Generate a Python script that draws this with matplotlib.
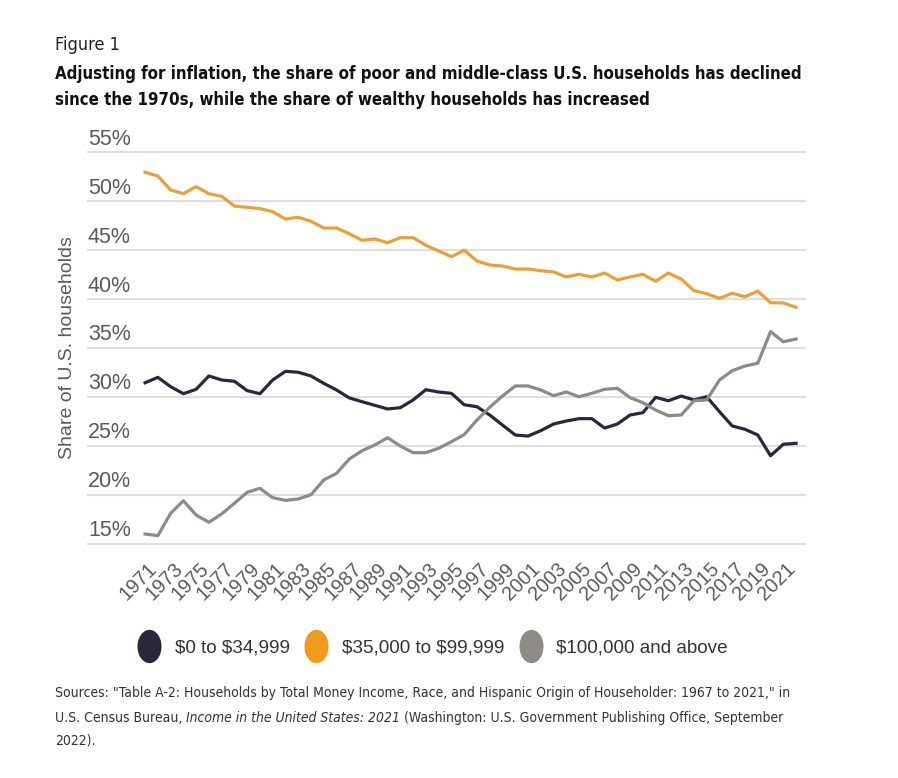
import matplotlib
matplotlib.use("Agg")
import matplotlib.pyplot as plt
from matplotlib import font_manager, transforms
from matplotlib.lines import Line2D
from matplotlib.path import Path
import numpy as np

# ---------------- data (share of U.S. households, %) ----------------
low = [31.45, 32.0, 31.05, 30.33, 30.78, 32.14, 31.73, 31.6, 30.64, 30.33,
       31.73, 32.62, 32.52, 32.14, 31.39, 30.71, 29.9, 29.51, 29.14, 28.77,
       28.9, 29.69, 30.74, 30.5, 30.37, 29.2, 29.0, 28.15, 27.13, 26.11,
       26.0, 26.55, 27.23, 27.54, 27.78, 27.78, 26.82, 27.23, 28.15, 28.39,
       29.96, 29.61, 30.09, 29.69, 30.02, 28.49, 27.03, 26.69, 26.11, 23.99,
       25.16, 25.26]
mid = [52.96, 52.58, 51.15, 50.77, 51.49, 50.77, 50.5, 49.51, 49.38, 49.24,
       48.93, 48.18, 48.36, 47.95, 47.26, 47.26, 46.68, 46.0, 46.14, 45.76,
       46.27, 46.27, 45.5, 44.91, 44.33, 45.0, 43.89, 43.48, 43.38, 43.07,
       43.07, 42.9, 42.77, 42.26, 42.53, 42.26, 42.66, 41.95, 42.26, 42.53,
       41.82, 42.66, 42.05, 40.86, 40.55, 40.07, 40.59, 40.24, 40.82, 39.63,
       39.6, 39.16]
high = [15.99, 15.82, 18.1, 19.39, 17.93, 17.19, 18.04, 19.13, 20.25, 20.66,
        19.7, 19.43, 19.57, 20.01, 21.51, 22.19, 23.66, 24.5, 25.09, 25.83,
        24.98, 24.3, 24.3, 24.75, 25.42, 26.15, 27.64, 28.94, 30.09, 31.12,
        31.12, 30.71, 30.13, 30.5, 30.02, 30.37, 30.78, 30.88, 29.92, 29.41,
        28.66, 28.08, 28.15, 29.61, 29.69, 31.73, 32.68, 33.16, 33.44, 36.67,
        35.64, 35.92]
tick_labels = ["1971", "1973", "1975", "1977", "1979", "1981", "1983", "1985",
               "1987", "1989", "1991", "1993", "1995", "1997", "1999", "2001",
               "2003", "2005", "2007", "2009", "2011", "2013", "2015", "2017",
               "2019", "2021"]
series_names = ["\\$0 to \\$34,999", "\\$35,000 to \\$99,999", "\\$100,000 and above"]
y_ticks = [15, 20, 25, 30, 35, 40, 45, 50, 55]

# ---------------- styles ----------------
c_low = "#29273c"
c_mid = "#eba036"
c_high = "#8e8b86"
c_mid_leg = "#ef9a1c"
grid_c = "#dedede"
tick_c = "#5a5a5a"

available = {f.name for f in font_manager.fontManager.ttflist}
sans = ["Liberation Sans", "DejaVu Sans"]
if "Liberation Sans Narrow" in available:
    narrow = ["Liberation Sans Narrow", "DejaVu Sans"]
    narrow_stretch = "normal"
else:
    narrow = ["DejaVu Sans"]
    narrow_stretch = "condensed"

plt.rcParams["font.family"] = sans

fig = plt.figure(figsize=(8.98, 7.78), dpi=100)
W, H = 898, 778
ax = fig.add_axes([88 / W, 1 - 543.7 / H, (805 - 88) / W, (543.7 - 152.3) / H])

x = np.arange(len(mid))
lw = 2.3
ax.plot(x, low, color=c_low, lw=lw, solid_joinstyle="round", zorder=3)
ax.plot(x, mid, color=c_mid, lw=lw, solid_joinstyle="round", zorder=3)
ax.plot(x, high, color=c_high, lw=lw, solid_joinstyle="round", zorder=3)

ax.set_xlim(-4.47, 51.7)
ax.set_ylim(15, 55)
for s in ax.spines.values():
    s.set_visible(False)

ax.set_yticks(y_ticks)
ax.yaxis.grid(True, color=grid_c, lw=1.5)
ax.set_axisbelow(True)
ax.tick_params(axis="y", length=0, labelleft=False)
for gl in ax.get_ygridlines():
    gl.set_clip_on(False)

ylab_tr = transforms.offset_copy(ax.get_yaxis_transform(), fig=fig, x=0, y=7.5, units="dots")
for v in y_ticks:
    ax.text(0, v, f"{v}%", transform=ylab_tr, ha="left", va="baseline",
            fontsize=15.5, color=tick_c)

ax.set_xticks(np.arange(0, 2 * len(tick_labels), 2))
ax.set_xticklabels(tick_labels, rotation=45, ha="right", fontsize=14.3, color=tick_c)
ax.tick_params(axis="x", length=0, pad=11)
off = transforms.ScaledTranslation(16 / 100, 0, fig.dpi_scale_trans)
for lab in ax.get_xticklabels():
    lab.set_transform(lab.get_transform() + off)

fig.text(67 / W, 1 - 348 / H, "Share of U.S. households", rotation=90,
         ha="center", va="center", fontsize=14, color=tick_c)

# ---------------- titles ----------------
fig.text(55 / W, 1 - 45 / H, "Figure 1", ha="left", va="center", fontsize=13,
         family=narrow, stretch=narrow_stretch, color="#222222")
fig.text(55 / W, 1 - 74 / H,
         "Adjusting for inflation, the share of poor and middle-class U.S. households has declined",
         ha="left", va="center", fontsize=12.1, fontweight="bold", family=narrow,
         stretch=narrow_stretch, color="#111111")
fig.text(55 / W, 1 - 100 / H,
         "since the 1970s, while the share of wealthy households has increased",
         ha="left", va="center", fontsize=12.1, fontweight="bold", family=narrow,
         stretch=narrow_stretch, color="#111111")

# ---------------- legend ----------------
theta = np.linspace(0, 2 * np.pi, 60)
ell = Path(np.column_stack([np.cos(theta) * 0.72, np.sin(theta)]))
handles = [Line2D([], [], ls="none", marker=ell, markersize=24, color=c,
                  markeredgewidth=0)
           for c in (c_low, c_mid_leg, c_high)]
fig.legend(handles, series_names, loc="center", bbox_to_anchor=(433 / W, 1 - 648 / H),
           ncol=3, frameon=False, fontsize=13.6, handlelength=1.2,
           handletextpad=0.75, columnspacing=0.8, labelcolor="#333333")

# ---------------- sources ----------------
src_kw = dict(fontsize=10, family=narrow, stretch=narrow_stretch, color="#333333")
fig.text(55 / W, 1 - 693 / H,
         "Sources: \"Table A-2: Households by Total Money Income, Race, and Hispanic Origin of Householder: 1967 to 2021,\" in",
         ha="left", va="center", **src_kw)
t1 = fig.text(55 / W, 1 - 718 / H, "U.S. Census Bureau, ", ha="left", va="center", **src_kw)
t2 = fig.text(0, 0, "Income in the United States: 2021", ha="left", va="center",
              style="italic", **src_kw)
t3 = fig.text(0, 0, " (Washington: U.S. Government Publishing Office, September",
              ha="left", va="center", **src_kw)
fig.text(55 / W, 1 - 741 / H, "2022).", ha="left", va="center", **src_kw)

renderer = fig.canvas.get_renderer()
bb1 = t1.get_window_extent(renderer)
t2.set_position((bb1.x1 / W, 1 - 718 / H))
bb2 = t2.get_window_extent(renderer)
t3.set_position((bb2.x1 / W, 1 - 718 / H))

fig.savefig("out.png", dpi=100)
